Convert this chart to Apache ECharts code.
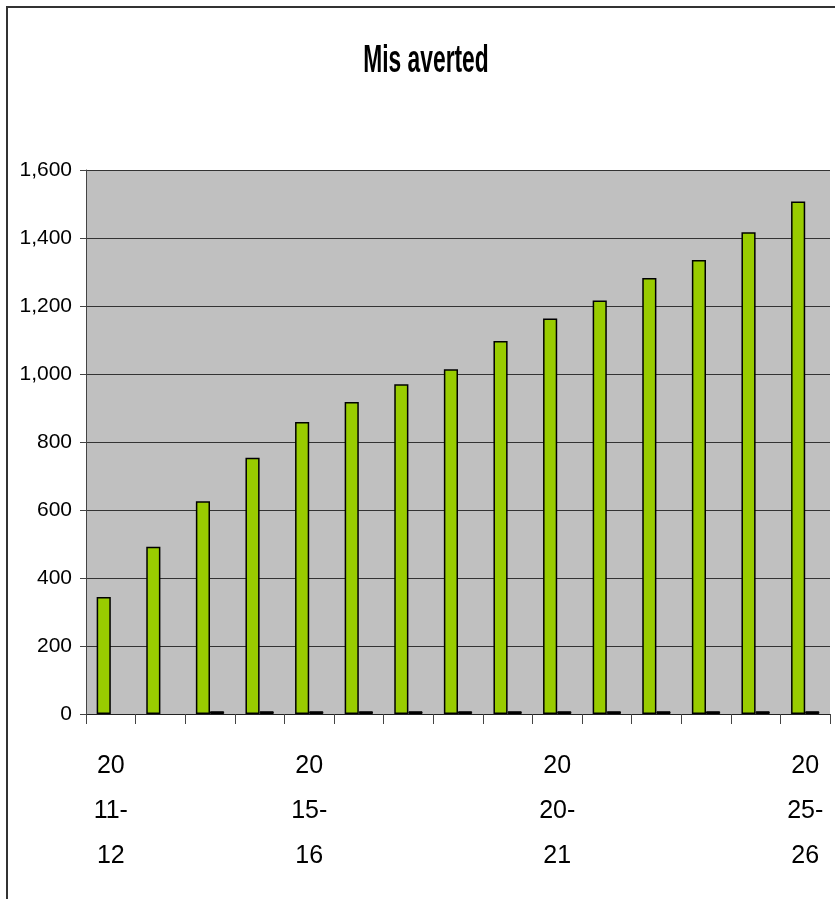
<!DOCTYPE html>
<html>
<head>
<meta charset="utf-8">
<script src="https://cdn.jsdelivr.net/npm/echarts@6/dist/echarts.min.js"></script>
<style>
  html, body { margin: 0; padding: 0; background: #fff; }
  #chart { width: 835px; height: 899px; }
</style>
</head>
<body>
<div id="chart"></div>
<script>
// Fiscal years on the horizontal axis
const years = ['2011-12', '2012-13', '2013-14', '2014-15', '2015-16', '2016-17', '2017-18',
  '2018-19', '2019-20', '2020-21', '2021-22', '2022-23', '2023-24', '2024-25', '2025-26'];
// MIs averted per year
const averted = [344, 492, 626, 754, 859, 918, 970, 1014, 1097, 1163, 1216, 1282, 1335, 1417, 1507];
// Small companion series drawn as thin black bars
const minor = [null, null, 8, 8, 8, 8, 8, 8, 8, 8, 8, 8, 8, 8, 8];
// Which year labels are shown
const shownYears = [0, 4, 9, 14];
// Value axis ticks
const yMin = 0, yMax = 1600, yStep = 200;

const FONT = '"Liberation Sans", Arial, sans-serif';

const chart = echarts.init(document.getElementById('chart'), null, { renderer: 'canvas' });

chart.setOption({
  animation: false,
  backgroundColor: '#ffffff',
  graphic: [
    {
      // outer frame
      type: 'rect',
      shape: { x: 7, y: 7, width: 900, height: 960 },
      style: { fill: 'none', stroke: '#333', lineWidth: 2 },
      silent: true
    },
    {
      // condensed bold title
      type: 'text',
      x: 426,
      y: 62,
      scaleX: 0.6,
      style: {
        text: 'Mis averted',
        font: 'bold 38px "Liberation Sans", Arial, sans-serif',
        fill: '#000',
        align: 'center',
        verticalAlign: 'middle'
      },
      silent: true
    }
  ],
  grid: {
    left: 86, right: 5, top: 170, bottom: 185,
    show: true, backgroundColor: '#c0c0c0', borderWidth: 0
  },
  xAxis: {
    type: 'category',
    data: years,
    boundaryGap: true,
    axisLine: { show: true, lineStyle: { color: '#222', width: 1 } },
    axisTick: { show: true, interval: 0, length: 10, lineStyle: { color: '#444' } },
    axisLabel: {
      interval: (i) => shownYears.includes(i),
      margin: 30,
      fontFamily: FONT,
      fontSize: 25,
      lineHeight: 45,
      color: '#000',
      formatter: (v) => v.slice(0, 2) + '\n' + v.slice(2, 5) + '\n' + v.slice(5)
    },
    splitLine: { show: false }
  },
  yAxis: {
    type: 'value',
    min: yMin, max: yMax, interval: yStep,
    axisLine: { show: true, lineStyle: { color: '#444', width: 1 } },
    axisTick: { show: true, length: 6, lineStyle: { color: '#444' } },
    axisLabel: {
      margin: 14,
      fontFamily: FONT,
      fontSize: 21,
      color: '#000',
      formatter: (v) => v.toString().replace(/\B(?=(\d{3})+(?!\d))/g, ',')
    },
    splitLine: { show: true, lineStyle: { color: '#333', width: 1 } }
  },
  series: [
    {
      type: 'bar',
      data: averted,
      barGap: '0%',
      barCategoryGap: '43%',
      itemStyle: { color: '#99cc00', borderColor: '#000', borderWidth: 1.5 }
    },
    {
      type: 'bar',
      data: minor,
      itemStyle: { color: '#000', borderColor: '#000', borderWidth: 1 }
    }
  ]
});
</script>
</body>
</html>
